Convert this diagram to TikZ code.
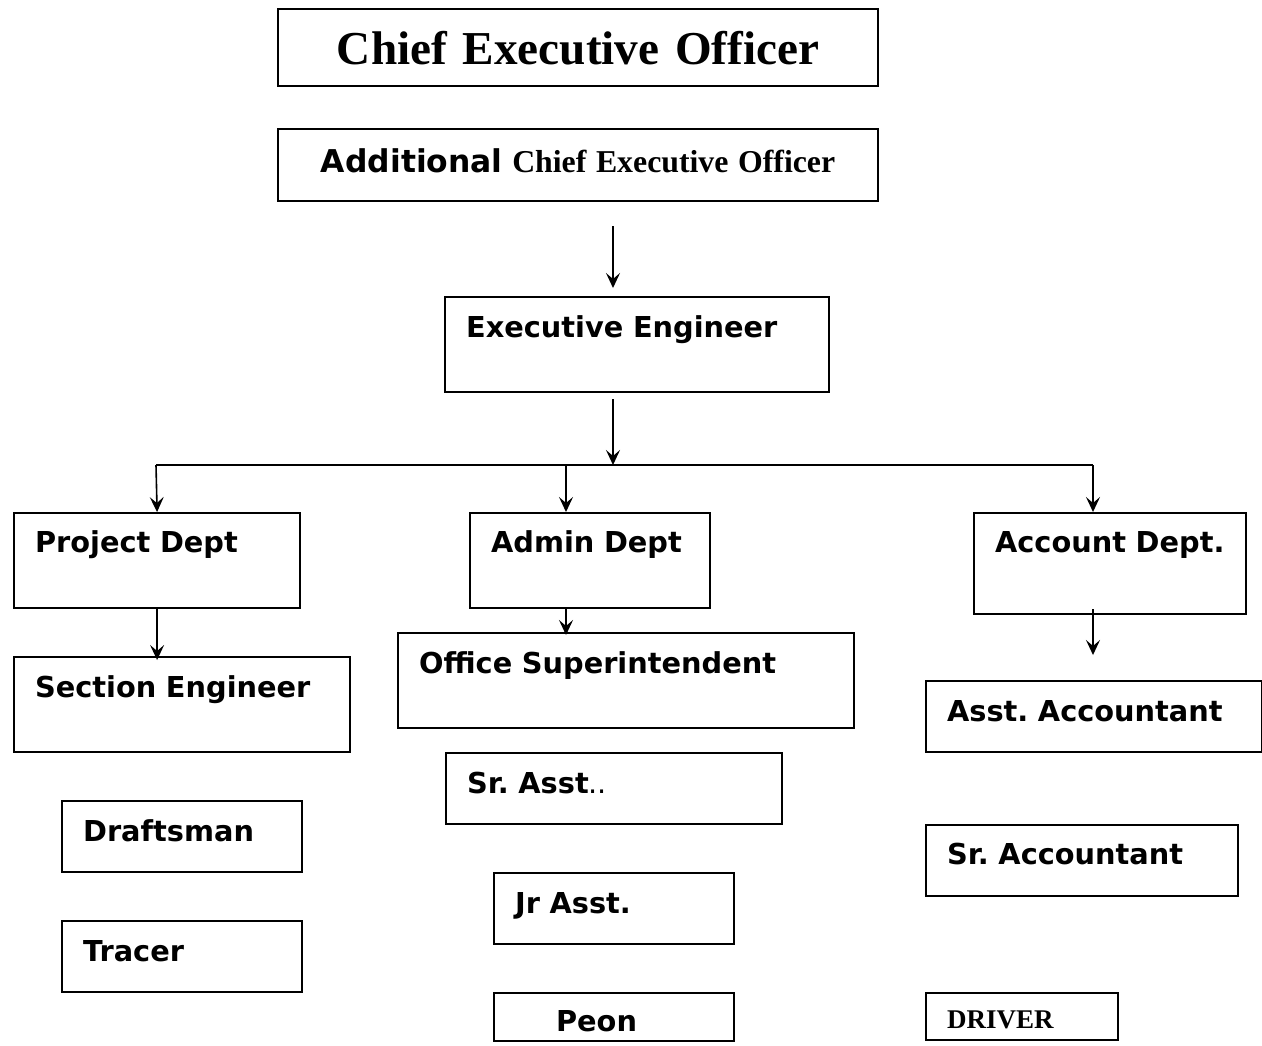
\documentclass[tikz,border=0pt]{standalone}
\usepackage{fontspec}
\setmainfont{Liberation Serif}
\newfontfamily\verdana{DejaVu Sans}
\usetikzlibrary{calc, arrows.meta}
\newcommand{\sanslabel}{\verdana\bfseries\fontsize{14.4}{17}\selectfont}
\newcommand{\seriflabel}{\rmfamily\bfseries\fontsize{13.5}{16}\selectfont}
\tikzset{
  post/.style={draw, line width=1.1pt, anchor=north west, align=left, inner xsep=10.5pt, inner ysep=0pt, font=\sanslabel},
  link/.style={line width=0.8pt},
  feed/.style={link, -{Stealth[length=7.5pt, width=7pt, inset=3pt]}}
}

\begin{document}
\begin{tikzpicture}[x=0.5pt, y=-0.5pt]
\useasboundingbox (0,0) rectangle (1262,1045);

\node[post, align=center, text width=279pt, text height=27.5pt, text depth=11pt, font={\rmfamily\bfseries\fontsize{23.6}{28}\selectfont}] (ceo) at (277,8) {Chief Executive Officer};
\node[post, align=center, text width=279pt, text height=21.5pt, text depth=14.5pt] (aceo) at (277,128) {{\fontsize{15.7}{19}\selectfont Additional} {\rmfamily\fontsize{15.9}{19}\selectfont Chief Executive Officer}};
\node[post, text width=171pt, text height=20pt, text depth=27.5pt] (exec) at (444,296) {Executive~Engineer};

\node[post, text width=122pt, text height=19.5pt, text depth=28pt] (project) at (13,512) {Project~Dept};
\node[post, text width=99pt, text height=19.5pt, text depth=28pt] (admin) at (469,512) {Admin~Dept};
\node[post, text width=115pt, text height=19.5pt, text depth=31pt] (account) at (973,512) {Account~Dept.};

\node[post, text width=147pt, text height=20pt, text depth=27.5pt] (section) at (13,656) {Section~Engineer};
\node[post, text width=99pt, text height=20pt, text depth=15.5pt] (draft) at (61,800) {Draftsman};
\node[post, text width=99pt, text height=20pt, text depth=15.5pt] (tracer) at (61,920) {Tracer};

\node[post, text width=207pt, text height=20pt, text depth=27.5pt] (office) at (397,632) {Office~Superintendent};
\node[post, text width=147pt, text height=20pt, text depth=15.5pt] (srasst) at (445,752) {Sr.~Asst{\mdseries..}};
\node[post, text width=99pt, text height=20pt, text depth=15.5pt] (jrasst) at (493,872) {Jr~Asst.};
\node[post, inner xsep=31pt, text width=58pt, text height=19pt, text depth=5pt] (peon) at (493,992) {Peon};

\node[post, text width=147pt, text height=20pt, text depth=15.5pt] (asstacc) at (925,680) {Asst.~Accountant};
\node[post, text width=135pt, text height=19.5pt, text depth=16pt] (sracc) at (925,824) {Sr.~Accountant};
\node[post, text width=75pt, text height=17.5pt, text depth=6pt, font=\seriflabel] (driver) at (925,992) {DRIVER};

\coordinate (busL) at (156,465);
\coordinate (busA) at (566,465);
\coordinate (busM) at (613,465);
\coordinate (busR) at (1093,465);

\draw[feed] ($(aceo.south -| busM)+(0,24)$) -- ($(exec.north -| busM)+(0,-8)$);
\draw[feed] ($(exec.south -| busM)+(0,6)$) -- (busM);
\draw[link] (busL) -- (busR);
\draw[feed] (busL) -- (project.north);
\draw[feed] (busA) -- (busA |- admin.north);
\draw[feed] (busR) -- (busR |- account.north);
\draw[feed] (project.south) -- ($(section.north -| project.south)+(0,4)$);
\draw[feed] (busA |- admin.south) -- ($(busA |- office.north)+(0,3)$);
\draw[feed] ($(busR |- account.south)+(0,-6)$) -- ($(busR |- asstacc.north)+(0,-25)$);
\end{tikzpicture}
\end{document}
